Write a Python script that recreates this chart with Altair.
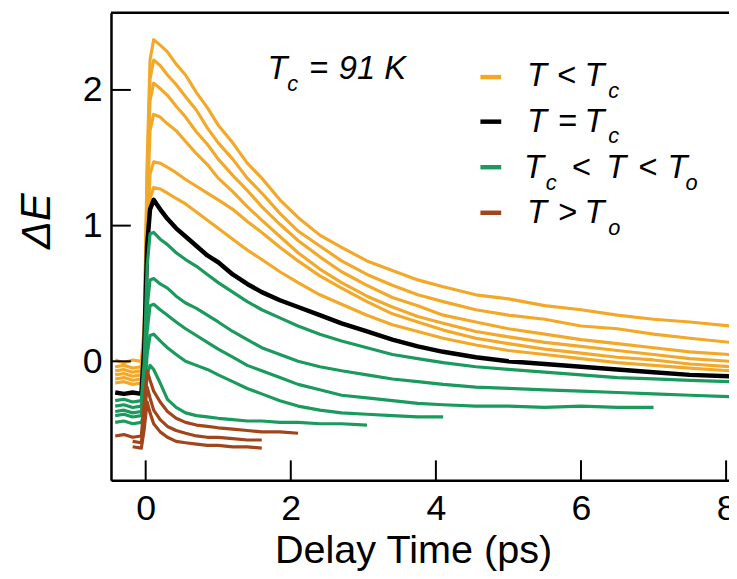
import altair as alt
import pandas as pd

# shared delay-time grid (ps)
X = [-0.42, -0.3, -0.18, -0.06, -0.02, 0.02, 0.06, 0.11, 0.2, 0.3, 0.42, 0.55, 0.7, 0.85, 1.0,
     1.2, 1.4, 1.6, 1.85, 2.1, 2.4, 2.7, 3.05, 3.4, 3.75, 4.1, 4.55, 5.0, 5.5, 6.0, 6.5, 7.0, 7.5, 8.05]
N = None

# T < Tc (orange)
Y1 = [0.01, -0.01, 0.01, 0.0, 0.25, 1.45, 2.22, 2.37, 2.33, 2.28, 2.19, 2.11, 1.98, 1.87, 1.74, 1.61, 1.46, 1.35,
      1.19, 1.06, 0.93, 0.84, 0.74, 0.67, 0.60, 0.55, 0.49, 0.46, 0.41, 0.38, 0.34, 0.31, 0.29, 0.26]
Y2 = [-0.04, -0.03, -0.05, -0.04, 0.20, 1.35, 2.08, 2.22, 2.18, 2.11, 2.04, 1.95, 1.85, 1.72, 1.61, 1.49, 1.35, 1.24,
      1.09, 0.96, 0.85, 0.74, 0.64, 0.56, 0.49, 0.44, 0.38, 0.34, 0.31, 0.26, 0.24, 0.20, 0.17, 0.14]
Y3 = [-0.07, -0.06, -0.08, -0.07, 0.15, 1.25, 1.92, 2.05, 2.01, 1.96, 1.88, 1.80, 1.69, 1.60, 1.49, 1.37, 1.26, 1.14,
      1.01, 0.89, 0.77, 0.66, 0.56, 0.47, 0.41, 0.34, 0.29, 0.24, 0.20, 0.16, 0.13, 0.10, 0.07, 0.05]
Y4 = [-0.10, -0.09, -0.11, -0.10, 0.12, 1.10, 1.70, 1.82, 1.80, 1.75, 1.70, 1.62, 1.53, 1.45, 1.35, 1.25, 1.14, 1.04,
      0.92, 0.80, 0.68, 0.58, 0.48, 0.40, 0.33, 0.28, 0.22, 0.18, 0.14, 0.11, 0.08, 0.05, 0.02, 0.0]
Y5 = [-0.13, -0.12, -0.14, -0.13, 0.08, 0.90, 1.38, 1.47, 1.46, 1.43, 1.39, 1.34, 1.29, 1.24, 1.19, 1.12, 1.03, 0.95,
      0.84, 0.74, 0.63, 0.54, 0.44, 0.35, 0.29, 0.23, 0.17, 0.13, 0.09, 0.06, 0.03, 0.01, -0.02, -0.04]
Y6 = [-0.16, -0.15, -0.17, -0.16, 0.05, 0.80, 1.20, 1.28, 1.27, 1.24, 1.20, 1.16, 1.10, 1.04, 0.98, 0.90, 0.82, 0.75,
      0.66, 0.58, 0.49, 0.42, 0.34, 0.27, 0.22, 0.17, 0.12, 0.08, 0.05, 0.02, -0.01, -0.03, -0.05, -0.07]

# T = Tc (black)
BK = [-0.23, -0.24, -0.23, -0.24, 0.10, 0.85, 1.12, 1.19, 1.12, 1.05, 0.98, 0.92, 0.85, 0.78, 0.73, 0.64, 0.57, 0.51,
      0.45, 0.40, 0.34, 0.28, 0.22, 0.16, 0.11, 0.07, 0.03, 0.0, -0.02, -0.04, -0.06, -0.08, -0.10, -0.11]

# Tc < T < To (green)
G1 = [-0.29, -0.28, -0.30, -0.29, 0.0, 0.70, 0.94, 0.95, 0.90, 0.86, 0.80, 0.75, 0.70, 0.64, 0.58, 0.51, 0.44, 0.38,
      0.32, 0.26, 0.20, 0.15, 0.10, 0.05, 0.02, -0.01, -0.04, -0.06, -0.08, -0.10, -0.12, -0.13, -0.14, -0.15]
G2 = [-0.33, -0.32, -0.34, -0.33, -0.10, 0.40, 0.60, 0.61, 0.57, 0.54, 0.48, 0.43, 0.39, 0.34, 0.29, 0.22, 0.16, 0.10,
      0.05, 0.0, -0.04, -0.07, -0.10, -0.13, -0.15, -0.17, -0.19, -0.20, -0.21, -0.22, -0.23, -0.24, -0.25, -0.26]
G3 = [-0.37, -0.36, -0.38, -0.37, -0.20, 0.22, 0.41, 0.42, 0.38, 0.34, 0.29, 0.24, 0.19, 0.14, 0.09, 0.03, -0.03, -0.07,
      -0.12, -0.17, -0.21, -0.25, -0.27, -0.29, -0.31, -0.32, -0.33, -0.33, -0.34, -0.33, -0.34, -0.34, N, N]
G4 = [-0.40, -0.39, -0.41, -0.40, -0.28, 0.05, 0.19, 0.20, 0.15, 0.10, 0.05, 0.0, -0.03, -0.06, -0.10, -0.15, -0.20, -0.24,
      -0.29, -0.33, -0.36, -0.38, -0.39, -0.40, -0.41, -0.41, N, N, N, N, N, N, N, N]
G5 = [-0.45, -0.44, -0.46, -0.45, -0.38, -0.10, -0.03, -0.06, -0.16, -0.28, -0.34, -0.38, -0.40, -0.41, -0.42, -0.43,
      -0.44, -0.44, -0.45, -0.45, -0.46, -0.46, -0.47, N, N, N, N, N, N, N, N, N, N, N]

# T > To (brown)
B1 = [-0.55, -0.54, -0.56, -0.55, -0.30, -0.07, -0.14, -0.22, -0.30, -0.37, -0.42, -0.45, -0.47, -0.48, -0.49, -0.50,
      -0.51, -0.52, -0.52, -0.53, N, N, N, N, N, N, N, N, N, N, N, N, N, N]
B2 = [N, N, -0.59, -0.60, -0.40, -0.19, -0.27, -0.36, -0.43, -0.48, -0.51, -0.53, -0.55, -0.56, -0.56, -0.57, -0.58,
      -0.58, N, N, N, N, N, N, N, N, N, N, N, N, N, N, N, N]
B3 = [N, N, -0.63, -0.64, -0.50, -0.30, -0.38, -0.46, -0.52, -0.56, -0.59, -0.60, -0.61, -0.62, -0.62, -0.63, -0.63,
      -0.64, N, N, N, N, N, N, N, N, N, N, N, N, N, N, N, N]

GROUPS = [("lt", [Y1, Y2, Y3, Y4, Y5, Y6], "#F2A92A", 3.2),
          ("eq", [BK], "#000000", 4.5),
          ("mid", [G1, G2, G3, G4, G5], "#1B9A5E", 3.2),
          ("gt", [B1, B2, B3], "#A0461A", 3.2)]

X_TICKS = [0, 2, 4, 6, 8]
Y_TICKS = [0, 1, 2]

W, H = 624, 472
OX, OY = 112, 10  # page position of plot origin
FONT = "Liberation Sans"

xs = alt.Scale(domain=[-0.478, 8.04], nice=False, zero=False)
ys = alt.Scale(domain=[-0.876, 2.569], nice=False, zero=False)

xaxis = alt.Axis(values=X_TICKS, title="Delay Time (ps)", ticks=False, grid=False, labelPadding=12,
                 labelFontSize=36, labelFont=FONT, labelColor="black", labelFlush=False,
                 titleFont=FONT, titleFontSize=40, titleFontWeight="normal", titleColor="black",
                 titleX=305, titleY=83, titleAlign="center", titleBaseline="alphabetic",
                 domainColor="black", domainWidth=2.5, format="d")
yaxis = alt.Axis(values=Y_TICKS, title="ΔE", ticks=False, grid=False, labelPadding=9,
                 labelFontSize=36, labelFont=FONT, labelColor="black", labelFlush=False,
                 titleFont=FONT, titleFontSize=42, titleFontWeight="normal", titleFontStyle="italic",
                 titleColor="black", titleX=-75, titleY=210, titleAlign="center", titleBaseline="middle",
                 domainColor="black", domainWidth=2.5, format="d")

layers = []
for name, series, color, sw in GROUPS:
    rows = []
    for i, vals in enumerate(series):
        for x, y in zip(X, vals):
            if y is not None:
                rows.append({"x": x, "y": y, "s": f"{name}{i}"})
    df = pd.DataFrame(rows)
    layers.append(
        alt.Chart(df).mark_line(color=color, strokeWidth=sw, clip=True, strokeJoin="round")
        .encode(x=alt.X("x:Q", scale=xs, axis=xaxis), y=alt.Y("y:Q", scale=ys, axis=yaxis), detail="s:N")
    )

# inward ticks
layers.append(alt.Chart(pd.DataFrame({"x": X_TICKS})).mark_rule(color="black", strokeWidth=2)
              .encode(x=alt.X("x:Q", scale=xs, axis=xaxis), y=alt.value(H), y2=alt.value(H - 20)))
layers.append(alt.Chart(pd.DataFrame({"y": Y_TICKS})).mark_rule(color="black", strokeWidth=2)
              .encode(y=alt.Y("y:Q", scale=ys, axis=yaxis), x=alt.value(0), x2=alt.value(20)))

one = pd.DataFrame({"a": [0]})
# top frame line
layers.append(alt.Chart(one).mark_rule(color="black", strokeWidth=2.5)
              .encode(x=alt.value(0), x2=alt.value(W), y=alt.value(0)))

# legend swatches (page coords)
LEG_COLORS = ["#F5A623", "#000000", "#1B9A5E", "#A0461A"]
LEG_Y = [75, 120, 166, 212]
for c, yy in zip(LEG_COLORS, LEG_Y):
    layers.append(alt.Chart(one).mark_rule(color=c, strokeWidth=4.5)
                  .encode(x=alt.value(485 - OX), x2=alt.value(506 - OX), y=alt.value(yy - OY)))

# text pieces: (text, page x, page baseline y, size)
BIG, SUB = 33, 22
PIECES = [
    ("T", 270, 77, BIG), ("c", 290, 89, SUB), ("=", 312, 77, BIG), ("91", 342, 77, BIG), ("K", 388, 77, BIG),
    ("T", 532, 84, BIG), ("<", 562, 84, BIG), ("T", 590, 84, BIG), ("c", 614, 96, SUB),
    ("T", 532, 130, BIG), ("=", 563, 130, BIG), ("T", 590, 130, BIG), ("c", 614, 142, SUB),
    ("T", 529, 177, BIG), ("c", 551, 189, SUB), ("<", 577, 177, BIG), ("T", 612, 177, BIG),
    ("<", 644, 177, BIG), ("T", 674, 177, BIG), ("o", 692, 189, SUB),
    ("T", 532, 222, BIG), (">", 563, 222, BIG), ("T", 590, 222, BIG), ("o", 614, 234, SUB),
]
for t, px, py, sz in PIECES:
    layers.append(alt.Chart(one).mark_text(text=t, font=FONT, fontStyle="italic", fontSize=sz, color="black",
                                           align="left", baseline="alphabetic")
                  .encode(x=alt.value(px - OX), y=alt.value(py - OY)))

chart = alt.layer(*layers).properties(
    width=W, height=H,
    autosize=alt.AutoSizeParams(type="none"),
    padding={"left": OX - 8, "top": OY - 8, "right": 0, "bottom": 95},
    background="white",
).configure_view(stroke=None)

chart.save("out.html", embed_options={"renderer": "svg", "actions": False})
